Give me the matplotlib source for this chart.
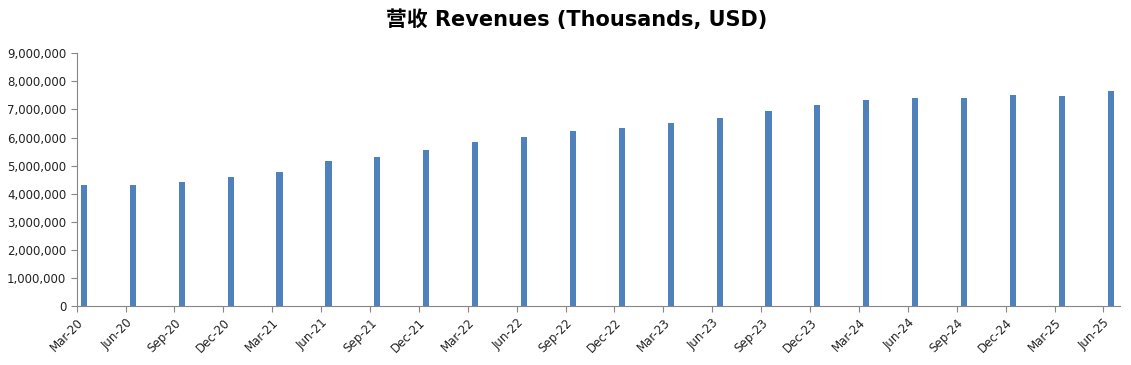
import matplotlib
matplotlib.use("Agg")
import matplotlib.pyplot as plt
from matplotlib.ticker import FuncFormatter

quarters = ["Mar-20", "Jun-20", "Sep-20", "Dec-20", "Mar-21", "Jun-21", "Sep-21", "Dec-21",
            "Mar-22", "Jun-22", "Sep-22", "Dec-22", "Mar-23", "Jun-23", "Sep-23", "Dec-23",
            "Mar-24", "Jun-24", "Sep-24", "Dec-24", "Mar-25", "Jun-25"]
revenues = [4310000, 4300000, 4410000, 4600000, 4770000, 5160000, 5300000, 5550000,
            5840000, 6010000, 6230000, 6330000, 6510000, 6690000, 6940000, 7150000,
            7330000, 7400000, 7400000, 7510000, 7470000, 7650000]

# date axis in months, one tick per quarter
months = [i * 3 for i in range(len(quarters))]

plt.rcParams['font.family'] = ['DejaVu Sans', 'Noto Sans CJK SC']

fig = plt.figure(figsize=(11.31, 3.65), dpi=100)
ax = fig.add_axes([0.0678, 0.1616, 0.9222, 0.6924])

ax.bar([m + 0.45 for m in months], revenues, width=0.38, color="#4F81BD", align="center")

ax.set_xlim(0, len(quarters) * 3 - 2)
ax.set_ylim(0, 9000000)
ax.set_yticks(range(0, 9000001, 1000000))
ax.yaxis.set_major_formatter(FuncFormatter(lambda v, p: f"{int(v):,}"))
ax.set_xticks(months)
ax.set_xticklabels(quarters, rotation=45, ha="right", rotation_mode="anchor")

for s in ["top", "right"]:
    ax.spines[s].set_visible(False)
for s in ["left", "bottom"]:
    ax.spines[s].set_color("#868686")
ax.tick_params(axis="both", colors="#868686", labelcolor="#222222", labelsize=8.5, length=4)

fig.text(0.51, 0.945, "营收 Revenues (Thousands, USD)", ha="center", va="center",
         fontsize=15, fontweight="bold", family=['DejaVu Sans', 'Noto Sans CJK SC'])

fig.savefig("out.png", dpi=100)
